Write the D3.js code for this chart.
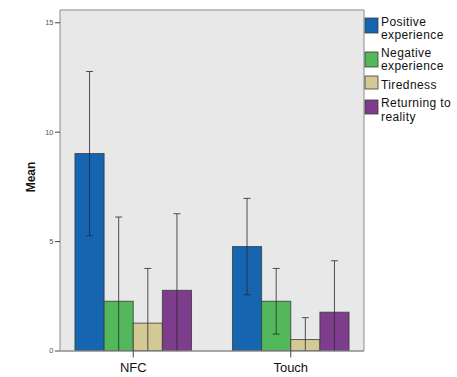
<!DOCTYPE html>
<html>
<head>
<meta charset="utf-8">
<script src="https://cdn.jsdelivr.net/npm/d3@7"></script>
<style>
  html, body { margin: 0; padding: 0; background: #fff; }
  svg { display: block; font-family: "Liberation Sans", Arial, sans-serif; }
</style>
</head>
<body>
<svg id="chart" width="457" height="377"></svg>
<script>
// Groups and measures
const groups = ["NFC", "Touch"];
const measures = ["Positive experience", "Negative experience", "Tiredness", "Returning to reality"];
const legendLines = [["Positive", "experience"], ["Negative", "experience"], ["Tiredness"], ["Returning to", "reality"]];
const colors = ["#1565b0", "#53b75b", "#d2c994", "#7e3c8d"];

// Mean values per group (same order as measures)
const meanNFC = [9.0, 2.25, 1.25, 2.75];
const meanTouch = [4.75, 2.25, 0.5, 1.75];
// Error bar ends
const upperNFC = [12.75, 6.1, 3.75, 6.25];
const lowerNFC = [5.25, -1.6, -1.25, -0.75];
const upperTouch = [6.95, 3.75, 1.5, 4.1];
const lowerTouch = [2.55, 0.75, -0.5, -0.6];

const yTicks = [0, 5, 10, 15];
const yTitle = "Mean";

const rows = [
  { group: "NFC", mean: meanNFC, upper: upperNFC, lower: lowerNFC },
  { group: "Touch", mean: meanTouch, upper: upperTouch, lower: lowerTouch }
];

const svg = d3.select("#chart");
const plot = { left: 60, right: 364, top: 10, bottom: 350.5 };

const x0 = d3.scaleBand().domain(groups).range([plot.left, plot.right])
  .paddingInner(0.26).paddingOuter(0.095);
const x1 = d3.scaleBand().domain(measures).range([0, x0.bandwidth()]);
const y = d3.scaleLinear().domain([0, 15.56]).range([plot.bottom, plot.top]);

// Plot background
svg.append("rect")
  .attr("x", plot.left).attr("y", plot.top)
  .attr("width", plot.right - plot.left).attr("height", plot.bottom - plot.top)
  .attr("fill", "#e8e8e8");

svg.append("clipPath").attr("id", "plotClip")
  .append("rect")
  .attr("x", plot.left).attr("y", plot.top)
  .attr("width", plot.right - plot.left).attr("height", plot.bottom - plot.top);

// Bars
const g = svg.append("g").attr("clip-path", "url(#plotClip)");
const groupsSel = g.selectAll("g.grp").data(rows).join("g")
  .attr("class", "grp")
  .attr("transform", d => `translate(${x0(d.group)},0)`);

groupsSel.selectAll("rect").data(d => measures.map((m, i) => ({ m, i, v: d.mean[i] })))
  .join("rect")
  .attr("x", d => x1(d.m))
  .attr("y", d => y(d.v))
  .attr("width", x1.bandwidth())
  .attr("height", d => y(0) - y(d.v))
  .attr("fill", d => colors[d.i])
  .attr("stroke", "#3a3a3a")
  .attr("stroke-opacity", 0.8)
  .attr("stroke-width", 1);

// Error bars
const eb = groupsSel.selectAll("g.eb")
  .data(d => measures.map((m, i) => ({ m, i, lo: d.lower[i], hi: d.upper[i] })))
  .join("g").attr("class", "eb")
  .attr("stroke", "#2b2b2b").attr("stroke-opacity", 0.8).attr("stroke-width", 1);
const cx = d => x1(d.m) + x1.bandwidth() / 2;
eb.append("line")
  .attr("x1", cx).attr("x2", cx)
  .attr("y1", d => y(d.lo)).attr("y2", d => y(d.hi));
eb.append("line")
  .attr("x1", d => cx(d) - 3.5).attr("x2", d => cx(d) + 3.5)
  .attr("y1", d => y(d.hi)).attr("y2", d => y(d.hi));
eb.append("line")
  .attr("x1", d => cx(d) - 3.5).attr("x2", d => cx(d) + 3.5)
  .attr("y1", d => y(d.lo)).attr("y2", d => y(d.lo));

// Plot frame (left, top, right)
svg.append("path")
  .attr("d", `M${plot.left},${plot.bottom}V${plot.top}H${plot.right}V${plot.bottom}`)
  .attr("fill", "none").attr("stroke", "#8a8a8a").attr("stroke-width", 1);

// Y axis
const yAxis = svg.append("g")
  .attr("transform", `translate(${plot.left},0)`)
  .call(d3.axisLeft(y).tickValues(yTicks).tickSize(5).tickPadding(1.5).tickFormat(d3.format("d")));
yAxis.select(".domain").remove();
yAxis.selectAll("line").attr("stroke", "#444");
yAxis.selectAll("text").attr("font-size", 7.5).attr("fill", "#555")
  .attr("font-family", "'Liberation Sans', Arial, sans-serif");

// X axis
const xAxis = svg.append("g")
  .attr("transform", `translate(0,${plot.bottom})`)
  .call(d3.axisBottom(x0).tickSize(7).tickPadding(5));
xAxis.select(".domain").attr("stroke", "#555")
  .attr("d", `M${plot.left},0.5H${plot.right}`);
xAxis.selectAll("line").attr("stroke", "#444");
xAxis.selectAll("text").attr("font-size", 13).attr("fill", "#111")
  .attr("font-family", "'Liberation Sans', Arial, sans-serif");

// Y title
svg.append("text")
  .attr("transform", "translate(35,177) rotate(-90)")
  .attr("text-anchor", "middle")
  .attr("font-size", 12).attr("font-weight", "bold").attr("fill", "#111")
  .text(yTitle);

// Legend: swatch top, swatch height and first-line baseline for each entry
const swatchTop = [18, 52, 76, 100];
const swatchH = [15, 15, 13, 14];
const textBase = [25.5, 56.5, 89, 107];
const lg = svg.append("g");
measures.forEach((m, i) => {
  lg.append("rect")
    .attr("x", 365).attr("y", swatchTop[i])
    .attr("width", 13).attr("height", swatchH[i])
    .attr("fill", colors[i]).attr("stroke", "#3a3a3a").attr("stroke-opacity", 0.8);
  legendLines[i].forEach((ln, j) => {
    lg.append("text")
      .attr("x", 381).attr("y", textBase[i] + j * 13.5)
      .attr("font-size", 12).attr("letter-spacing", 0.4).attr("fill", "#111")
      .text(ln);
  });
});
</script>
</body>
</html>
